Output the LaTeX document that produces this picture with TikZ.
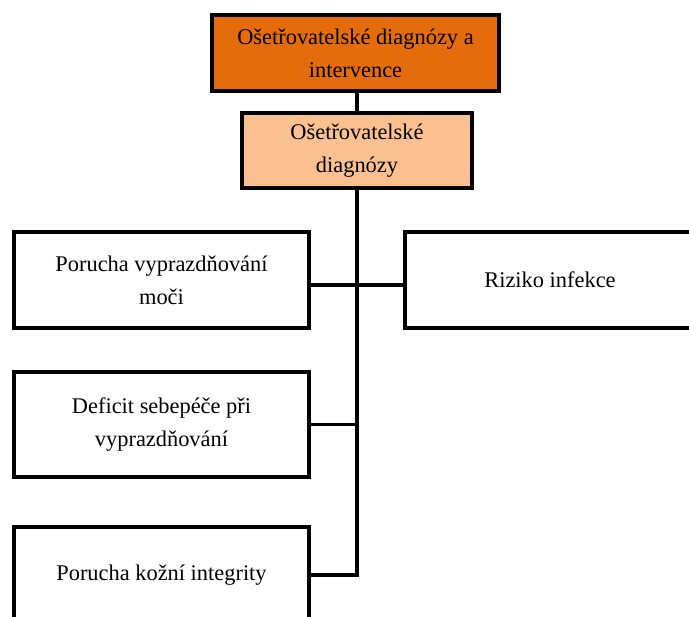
\documentclass[tikz,border=0pt]{standalone}
\usepackage{fontspec}
\setmainfont{Liberation Serif}
\definecolor{deeporange}{HTML}{E46C0A}
\definecolor{paleorange}{HTML}{FAC090}
\begin{document}
\begin{tikzpicture}[x=0.75pt,y=-0.75pt,
  box/.style={draw=black, line width=2.8pt, rectangle, align=center,
              inner sep=0pt, fill=white,
              font=\fontsize{16.8}{24.5}\selectfont},
  link/.style={line width=2.5pt}]
\clip (0,0) rectangle (689,617);
\fill[white] (0,0) rectangle (689,617);

% header boxes
\node[box, fill=deeporange, minimum width=215.25pt, minimum height=57pt]
  (root) at (355.5,53) {Ošetřovatelské diagnózy a\\intervence};
\node[box, fill=paleorange, minimum width=172.5pt, minimum height=56.25pt]
  (sub) at (357,150.5) {Ošetřovatelské\\diagnózy};

% diagnosis boxes
\node[box, minimum width=221.25pt, minimum height=72pt]
  (porucha) at (161.5,280) {Porucha vyprazdňování\\moči};
\node[box, minimum width=217.5pt, minimum height=72pt]
  (riziko) at (550,280) {Riziko infekce};
\node[box, minimum width=221.25pt, minimum height=78.75pt]
  (deficit) at (161.5,424.5) {Deficit sebepéče při\\vyprazdňování};
\node[box, minimum width=221.25pt, minimum height=72pt]
  (kozni) at (161.5,575) {Porucha kožní integrity};

% connectors
\coordinate (j1) at (357,285);
\coordinate (trunkend) at (357,575);
\draw[link] (sub.north |- root.south) -- (sub.north);
\draw[link] (sub.south) -- (trunkend) -- (kozni.east);
\draw[link] (porucha.east |- j1) -- (riziko.west |- j1);
\draw[link] (deficit.east) -- (deficit.east -| trunkend);
\end{tikzpicture}
\end{document}
